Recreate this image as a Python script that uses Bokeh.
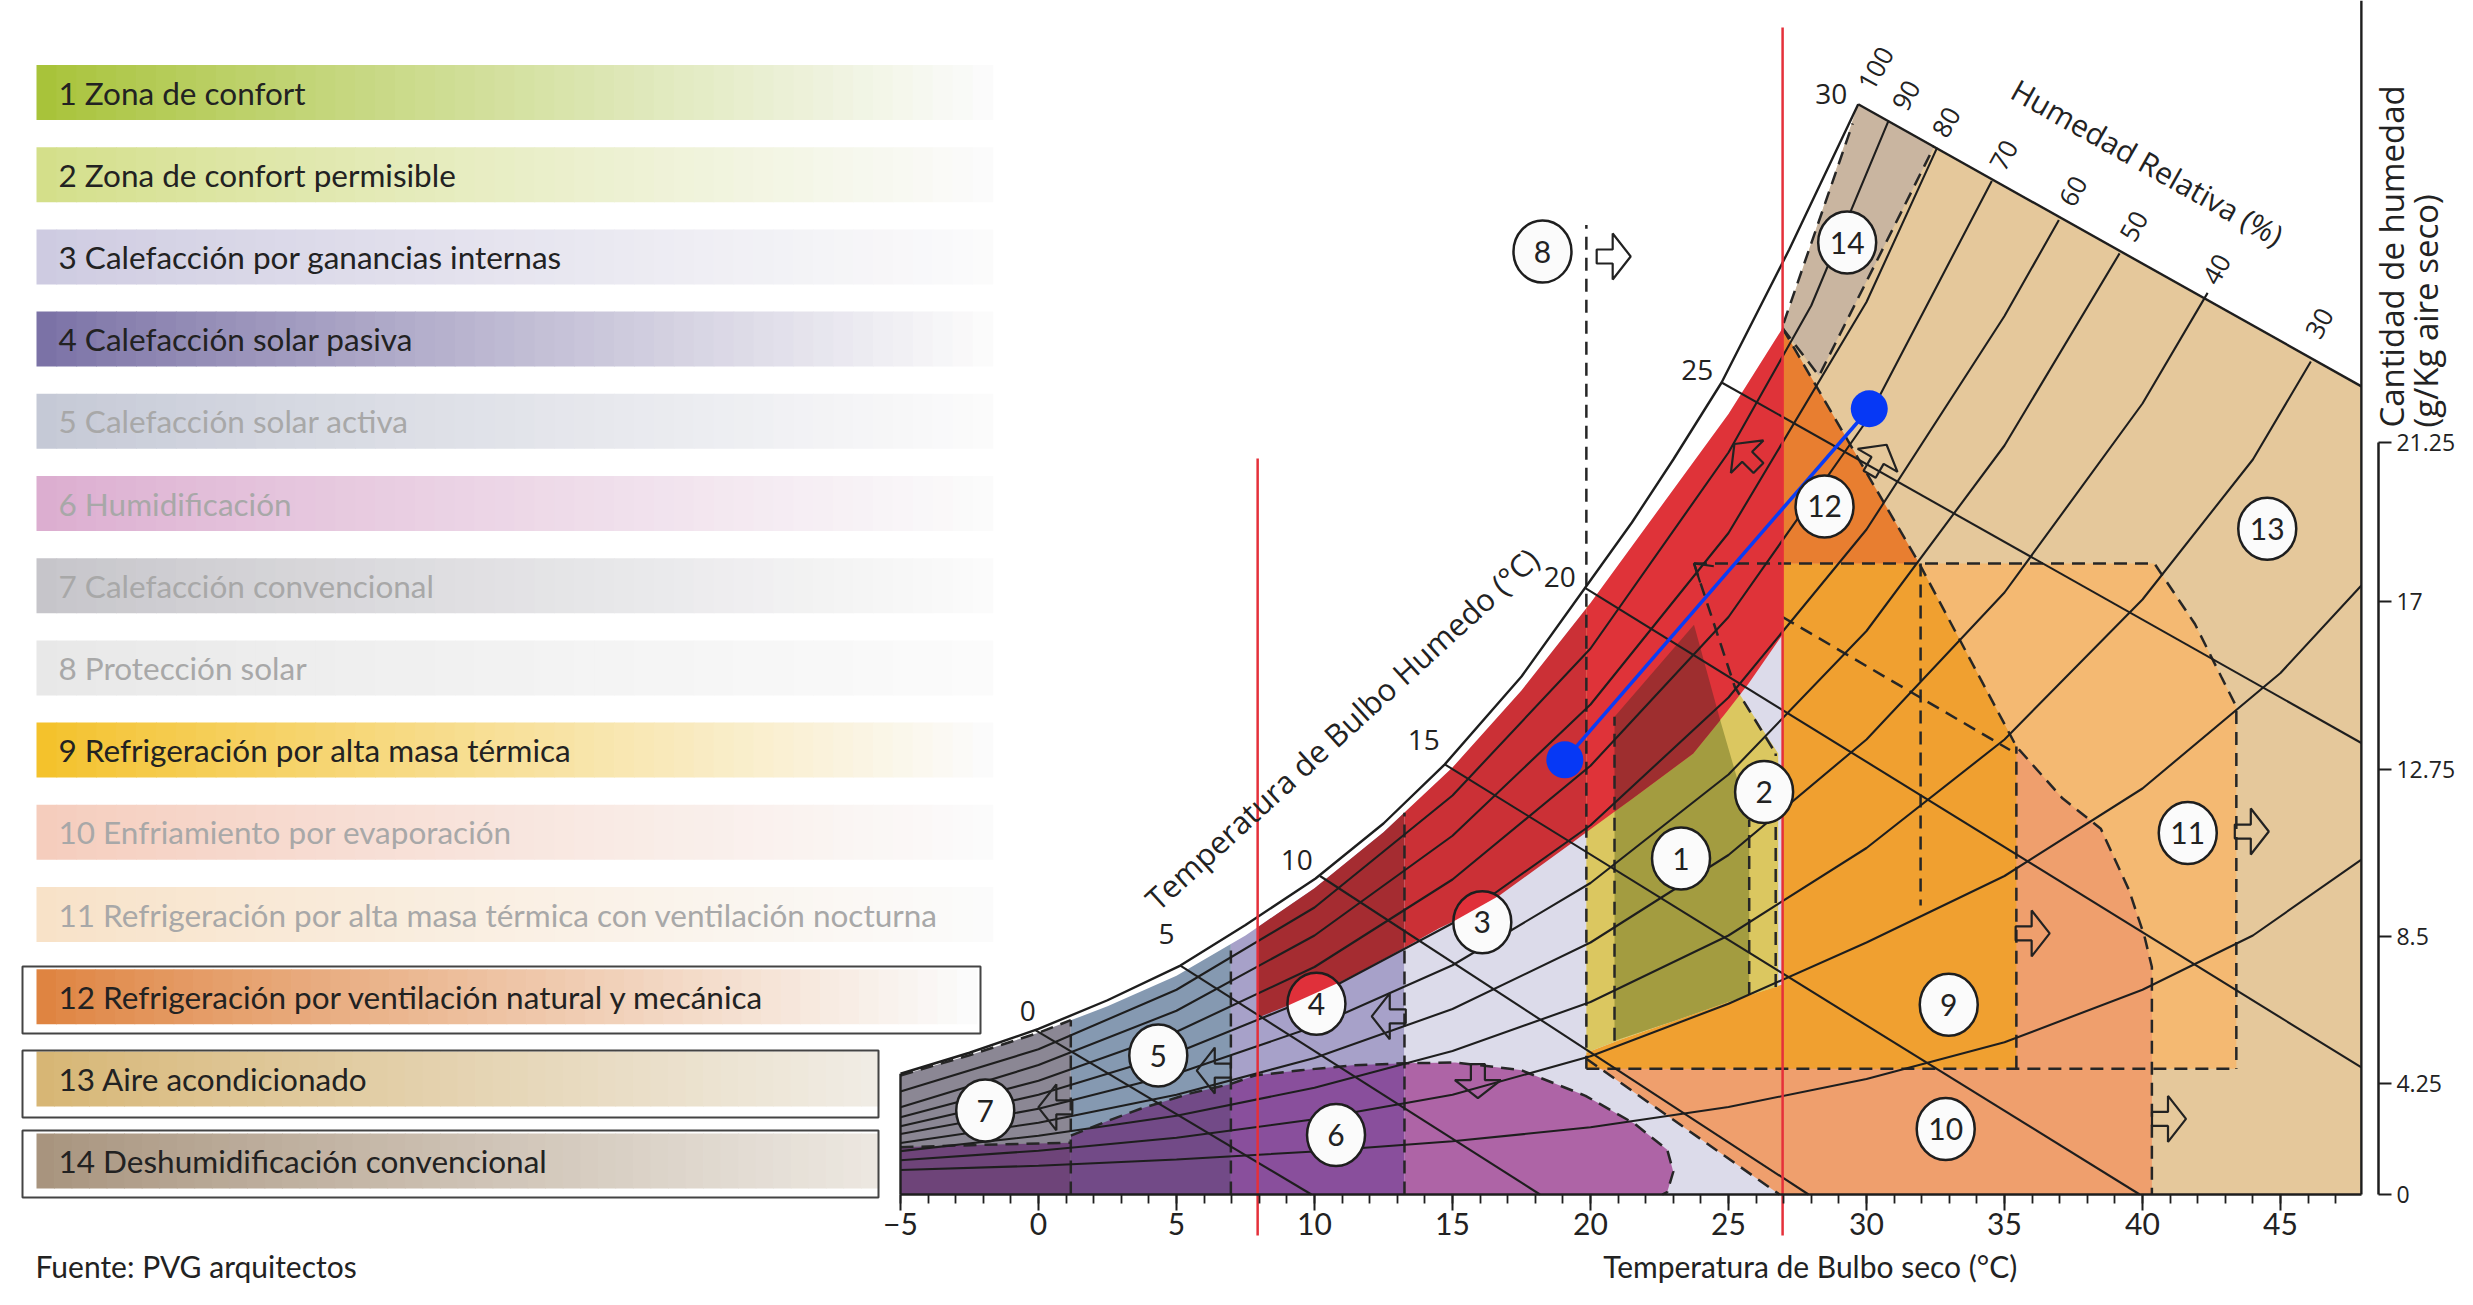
import numpy as np
from bokeh.plotting import figure
from bokeh.models import Range1d, LinearAxis, FixedTicker, CustomJSTickFormatter
from bokeh.core.properties import value
from bokeh.embed import file_html
from bokeh.resources import INLINE

# ======================= DATA =======================
legend_labels = [
    "1 Zona de confort",
    "2 Zona de confort permisible",
    "3 Calefacción por ganancias internas",
    "4 Calefacción solar pasiva",
    "5 Calefacción solar activa",
    "6 Humidificación",
    "7 Calefacción convencional",
    "8 Protección solar",
    "9 Refrigeración por alta masa térmica",
    "10 Enfriamiento por evaporación",
    "11 Refrigeración por alta masa térmica con ventilación nocturna",
    "12 Refrigeración por ventilación natural y mecánica",
    "13 Aire acondicionado",
    "14 Deshumidificación convencional",
]
legend_faded = [False, False, False, False, True, True, True, True, False, True, True, False, False, False]

x_ticks = [-5, 0, 5, 10, 15, 20, 25, 30, 35, 40, 45]
x_minor_ticks = list(range(-5, 48))
hum_tick_pos = [0, 3.17, 7.37, 12.14, 16.94, 21.49]
hum_tick_labels = ["0", "4.25", "8.5", "12.75", "17", "21.25"]

# saturation (outer) line and inner edge of the coloured zones
sat_T = [-5, -2.5, 0, 2.5, 5.14, 7.5, 10.04, 12.5, 14.72, 17.5, 19.8, 21.5, 23.0, 24.75, 27.2, 29.7]
sat_g = [3.45, 4.05, 4.73, 5.55, 6.54, 7.7, 9.03, 10.6, 12.29, 14.8, 17.33, 19.2, 21.0, 23.2, 27.0, 31.15]
fill_T = [-5, -2.5, 0, 2.5, 5, 7.5, 10, 12.5, 15, 17.5, 20, 22.5, 25, 26.96]
fill_g = [3.40, 3.98, 4.62, 5.38, 6.25, 7.4, 8.75, 10.35, 12.2, 14.4, 16.9, 19.6, 22.3, 24.75]
top_T = [29.7, 47.93]
top_g = [31.15, 23.09]
chart_right_T = 47.93

# relative humidity curves
rh90_T = [-5, 0, 5, 10, 15, 20, 25, 28, 30.8]
rh90_g = [2.94, 4.15, 5.85, 8.2, 11.4, 15.6, 21.2, 25.4, 30.68]
rh80_T = [-5, 0, 5, 10, 15, 20, 25, 30, 32.56]
rh80_g = [2.49, 3.7, 5.25, 7.4, 10.25, 14.0, 18.9, 25.5, 29.91]
rh70_T = [-5, 0, 5, 10, 15, 20, 25, 30, 34.54]
rh70_g = [2.21, 3.25, 4.65, 6.5, 9.0, 12.25, 16.5, 22.1, 28.96]
rh60_T = [-5, 0, 5, 10, 15, 20, 25, 30, 35, 36.97]
rh60_g = [1.95, 2.85, 4.05, 5.65, 7.75, 10.55, 14.2, 19.0, 25.1, 27.84]
rh50_T = [-5, 0, 5, 10, 15, 20, 25, 30, 35, 39.17]
rh50_g = [1.73, 2.45, 3.45, 4.8, 6.55, 8.9, 12.0, 16.1, 21.4, 26.89]
rh40_T = [-5, 0, 5, 10, 15, 20, 25, 30, 35, 40, 42.36]
rh40_g = [1.47, 2.05, 2.85, 3.9, 5.3, 7.2, 9.7, 13.0, 17.2, 22.6, 25.76]
rh30_T = [-5, 0, 5, 10, 15, 20, 25, 30, 35, 40, 44, 46.1]
rh30_g = [1.24, 1.68, 2.25, 3.05, 4.1, 5.5, 7.4, 9.9, 13.0, 17.0, 21.0, 23.8]
rh20_T = [-5, 0, 5, 10, 15, 20, 25, 30, 35, 40, 45, 47.93]
rh20_g = [0.98, 1.25, 1.62, 2.15, 2.85, 3.95, 5.45, 7.2, 9.1, 11.6, 14.9, 17.4]
rh10_T = [-5, 0, 5, 10, 15, 20, 25, 30, 35, 40, 44, 47.93]
rh10_g = [0.70, 0.82, 1.0, 1.23, 1.52, 1.92, 2.5, 3.3, 4.35, 5.85, 7.4, 9.57]
rh_label_text = ["100", "90", "80", "70", "60", "50", "40", "30"]
rh_label_T = [30.35, 31.45, 32.9, 34.99, 37.5, 39.7, 42.7, 46.42]
rh_label_g = [32.17, 31.4, 30.63, 29.69, 28.66, 27.66, 26.43, 24.89]

# wet bulb lines
wb_start_T = [-0.1, 5.14, 10.2, 14.72, 19.8, 24.75]
wb_start_g = [4.69, 6.54, 9.1, 12.29, 17.33, 23.2]
wb_end_T = [9.89, 18.17, 27.9, 39.9, 47.93, 47.93]
wb_end_g = [0, 0, 0, 0, 3.63, 12.9]
wb_label_text = ["0", "5", "10", "15", "20", "25", "30"]
wb_label_T = [-0.39, 4.64, 9.36, 13.96, 18.89, 23.87, 28.72]
wb_label_g = [5.25, 7.45, 9.55, 12.99, 17.65, 23.57, 31.44]

# zone column limits
col_edges = [-5, 1.17, 6.97, 13.26, 26.96]
# red band (climate overlay) lower edge
rlow_T = [7.94, 10, 11.5, 13.26, 14.5, 16.1, 17.5, 19.35, 21.5, 23.72, 24.9, 25.73, 26.96]
rlow_g = [5.05, 5.7, 6.3, 7.05, 7.6, 8.2, 9.0, 10.06, 11.3, 12.6, 13.76, 14.6, 16.0]
red_cols = [7.94, 13.26, 19.85, 26.96]

# zone 6 (humidification)
z6a_T = [-5, -5, -2, 1.17, 1.17]
z6a_g = [0, 1.35, 1.42, 1.48, 0]
z6b_T = [1.17, 1.17, 2.5, 3.7, 5.46, 6.97, 6.97]
z6b_g = [0, 1.68, 2.1, 2.45, 2.88, 3.16, 0]
z6c_T = [6.97, 6.97, 7.83, 9.5, 11.37, 13.26, 13.26]
z6c_g = [0, 3.16, 3.4, 3.55, 3.69, 3.75, 0]
z6d_T = [13.26, 13.26, 15.1, 17.46, 19.82, 21.6, 22.78, 23.0, 22.78, 22.6]
z6d_g = [0, 3.75, 3.77, 3.56, 2.82, 2.02, 1.28, 0.65, 0.07, 0]

zone13_T = [26.96, 29.7, 47.93, 47.93, 26.96]
zone13_g = [24.75, 31.15, 23.09, 0, 0]
zone11_T = [31.91, 40.43, 41.9, 42.85, 43.4, 43.4, 35.43, 35.43]
zone11_g = [18.03, 18.03, 16.3, 14.8, 13.94, 3.59, 3.59, 12.8]
zone10_T = [19.85, 26.85, 40.34, 40.34, 40.07, 39.51, 38.49, 37.1, 35.43, 31.91, 26.96, 26.96]
zone10_g = [3.88, 0, 0, 6.5, 7.38, 8.7, 10.45, 11.32, 12.8, 18.03, 24.75, 6.0]
zone9_T = [19.85, 35.43, 35.43, 31.91, 26.96, 26.96, 25, 23, 21, 19.85]
zone9_g = [3.59, 3.59, 12.8, 18.03, 18.03, 6.0, 5.5, 4.95, 4.4, 4.05]
zone12_T = [26.96, 31.91, 26.96]
zone12_g = [24.75, 18.03, 18.03]
zone14_T = [29.7, 26.96, 28.28, 30.37, 32.46]
zone14_g = [31.15, 24.75, 23.39, 26.67, 29.96]
zone2_T = [19.85, 21, 23, 25, 26.8, 26.8, 25.23, 23.75, 19.85]
zone2_g = [4.05, 4.4, 4.95, 5.5, 5.95, 12.6, 14.5, 18.03, 16.8]
zone1_T = [20.87, 23, 25, 25.75, 25.75, 24.7, 23.75, 20.87]
zone1_g = [4.39, 4.95, 5.5, 5.7, 10.7, 13.55, 16.28, 13.65]
zone1red_T = [20.87, 21.5, 23.72, 24.7, 23.75, 20.87]
zone1red_g = [10.94, 11.3, 12.6, 13.55, 16.28, 13.65]

# dashed zone boundaries
dash_T = [
    [19.85, 19.85], [20.87, 20.87], [25.75, 25.75], [26.71, 26.71],
    [23.75, 25.23, 26.71], [19.85, 43.4], [35.43, 35.43],
    [26.96, 31.91, 35.43, 37.1, 38.49, 39.51, 40.07, 40.34, 40.34],
    [23.75, 40.43, 41.9, 42.85, 43.4, 43.4], [31.96, 31.96], [26.96, 35.2],
    [19.85, 26.85], [1.17, 1.17], [6.97, 6.97], [13.26, 13.26],
    [-5, -2, 1.17],
    [1.17, 2.5, 3.7, 5.46, 6.97, 7.83, 9.5, 11.37, 13.26, 15.1, 17.46, 19.82, 21.6, 22.78, 23.0, 22.78, 22.6],
    [26.96, 28.28, 30.37, 32.46], [27.0, 29.5], [-5, -2.5, 0, 1.17],
]
dash_g = [
    [3.59, 27.7], [4.39, 13.65], [5.7, 10.7], [5.93, 12.6],
    [18.03, 14.5, 12.6], [3.59, 3.59], [3.59, 12.8],
    [24.75, 18.03, 12.8, 11.32, 10.45, 8.7, 7.38, 6.5, 0],
    [18.03, 18.03, 16.3, 14.8, 13.94, 3.59], [18.03, 8.26], [16.5, 12.7],
    [3.88, 0], [0, 4.98], [0, 7.16], [0, 10.91],
    [1.35, 1.42, 1.48],
    [1.68, 2.1, 2.45, 2.88, 3.16, 3.4, 3.55, 3.69, 3.75, 3.77, 3.56, 2.82, 2.02, 1.28, 0.65, 0.07, 0],
    [24.75, 23.39, 26.67, 29.96], [24.9, 30.6], [3.40, 3.98, 4.62, 4.98],
]

# strategy arrows (position and direction in degrees)
arrow_T = [0.61, 6.35, 12.69, 15.92, 20.84, 36.02, 43.96, 40.96, 25.65, 30.42]
arrow_g = [2.49, 3.54, 5.09, 3.24, 26.8, 7.46, 10.37, 2.16, 21.1, 21.0]
arrow_dir = [180, 180, 180, 270, 0, 0, 0, 0, 135, 60]
vhead_T, vhead_g, vhead_dir = [23.75], [18.03], [140]

# zone number markers
circle_text = [str(i) for i in range(1, 15)]
circle_T = [23.28, 26.29, 16.08, 10.07, 4.34, 10.78, -1.93, 18.26, 32.98, 32.87, 41.64, 28.48, 44.52, 29.3]
circle_g = [9.6, 11.5, 7.78, 5.45, 3.97, 1.7, 2.4, 26.94, 5.42, 1.87, 10.33, 19.66, 19.02, 27.2]
capped = [2, 3]

# climate data line
blue_T = [19.07, 30.1]
blue_g = [12.42, 22.45]
redline_T = [7.94, 26.96]
redline_top = [21.03, 33.34]
redline_bottom = [-1.17, -1.17]

# ======================= STYLE / LAYOUT =======================
W, H = 2457, 1289
PX_T, PX_G = 27.6, 35.0
X_M5, Y_G0 = 900.0, 1194.0          # screen position of T=-5 and g=0
xs0 = -5 - X_M5 / PX_T
xs1 = xs0 + W / PX_T
ys0 = -(H - Y_G0) / PX_G
ys1 = Y_G0 / PX_G
HUM_AXIS_T = 48.55

legend_colors = ["#a8c33a", "#d4df8a", "#cecbe1", "#7b72a6", "#c5c9d6", "#dcaed0", "#c6c5ca",
                 "#e8e8e8", "#f4c22c", "#f5cdbd", "#f8e2c8", "#df8441", "#d7b675", "#a8947e"]
legend_end_colors = ["#fbfbfb"] * 12 + ["#f0ece4", "#ece7e0"]
LEG_X0, LEG_TX, LEG_Y0, LEG_DY, LEG_H = 36, 58, 92, 82.2, 55
leg_xend = [992] * 11 + [976, 878, 878]
box_l, box_r = [22, 22, 22], [980, 878, 878]
box_t, box_b = [966, 1050, 1130], [1033, 1117, 1197]

INK = "#1e1e1e"
FONT_C = "Open Sans"
FONT_L = "Lato"


def mix(c1, c2, t):
    a = [int(c1[i:i + 2], 16) for i in (1, 3, 5)]
    b = [int(c2[i:i + 2], 16) for i in (1, 3, 5)]
    return "#%02x%02x%02x" % tuple(int(round(a[k] + (b[k] - a[k]) * t)) for k in range(3))


p = figure(width=W, height=H, x_range=Range1d(xs0, xs1), y_range=Range1d(ys0, ys1),
           x_axis_type=None, y_axis_type=None, toolbar_location=None, output_backend="svg",
           min_border=0, min_border_left=0, min_border_top=0, min_border_right=0, min_border_bottom=0,
           outline_line_color=None, background_fill_color="white", border_fill_color="white")
p.extra_x_ranges = {"px": Range1d(0, W)}
p.extra_y_ranges = {"px": Range1d(H, 0)}

# ---------- legend ----------
NS = 48
for i, lab in enumerate(legend_labels):
    cy = LEG_Y0 + LEG_DY * i
    edges = np.linspace(LEG_X0, leg_xend[i], NS + 1)
    cols = [mix(legend_colors[i], legend_end_colors[i], (k / (NS - 1)) ** 0.9) for k in range(NS)]
    p.quad(left=edges[:-1], right=edges[1:] + 0.8, top=cy - LEG_H / 2, bottom=cy + LEG_H / 2,
           fill_color=cols, line_color=None, x_range_name="px", y_range_name="px")
p.text(x=[LEG_TX] * 14, y=[LEG_Y0 + LEG_DY * i for i in range(14)], text=legend_labels,
       text_color=["#a8a8a8" if f else "#222222" for f in legend_faded],
       text_font=value(FONT_L), text_font_size=value("31.5px"), text_baseline="middle",
       x_range_name="px", y_range_name="px")
p.quad(left=box_l, right=box_r, top=box_t, bottom=box_b, fill_color=None, line_color="#444444",
       line_width=2, x_range_name="px", y_range_name="px")


# ---------- zone fills ----------
def col_poly(a, b):
    ts = [t for t in fill_T if a < t < b]
    T = [a, a] + ts + [b, b]
    G = [0, float(np.interp(a, fill_T, fill_g))] + [float(np.interp(t, fill_T, fill_g)) for t in ts] + \
        [float(np.interp(b, fill_T, fill_g)), 0]
    return T, G


def band_poly(a, b):
    ts = [t for t in fill_T if a < t < b]
    rs = [t for t in rlow_T if a < t < b][::-1]
    T = [a] + ts + [b] + [b] + rs + [a]
    G = [float(np.interp(t, fill_T, fill_g)) for t in [a] + ts + [b]] + \
        [float(np.interp(t, rlow_T, rlow_g)) for t in [b] + rs + [a]]
    return T, G


col_colors = ["#8b8794", "#8599b1", "#a7a1c9", "#dcdbea"]
for k in range(4):
    T, G = col_poly(col_edges[k], col_edges[k + 1])
    p.patch(T, G, fill_color=col_colors[k], line_color=None)

p.patch(zone13_T, zone13_g, fill_color="#e5c89b", line_color=None)
p.patch(zone11_T, zone11_g, fill_color="#f4b972", line_color=None)
p.patch(zone10_T, zone10_g, fill_color="#ef9f6d", line_color=None)
p.patch(zone9_T, zone9_g, fill_color="#f0a030", line_color=None)
p.patch(zone12_T, zone12_g, fill_color="#e87e30", line_color=None)
p.patch(zone14_T, zone14_g, fill_color="#c9b5a0", line_color=None)
p.patch(zone2_T, zone2_g, fill_color="#dbc760", line_color=None)
p.patch(zone1_T, zone1_g, fill_color="#a39c40", line_color=None)
for T, G, c in [(z6a_T, z6a_g, "#6e4479"), (z6b_T, z6b_g, "#724a87"),
                (z6c_T, z6c_g, "#894f9c"), (z6d_T, z6d_g, "#ae64a6")]:
    p.patch(T, G, fill_color=c, line_color=None)
for k, c in enumerate(["#a52c31", "#cb3036", "#df3339"]):
    T, G = band_poly(red_cols[k], red_cols[k + 1])
    p.patch(T, G, fill_color=c, line_color=None)
p.patch(zone1red_T, zone1red_g, fill_color="#9e2e2f", line_color=None)

# ---------- lines ----------
p.multi_line(xs=dash_T, ys=dash_g, line_color="#262626", line_width=2.5, line_dash="13 8")
rh_T = [rh90_T, rh80_T, rh70_T, rh60_T, rh50_T, rh40_T, rh30_T, rh20_T, rh10_T]
rh_g = [rh90_g, rh80_g, rh70_g, rh60_g, rh50_g, rh40_g, rh30_g, rh20_g, rh10_g]
p.multi_line(xs=rh_T, ys=rh_g, line_color=INK, line_width=2.1)
p.segment(x0=wb_start_T, y0=wb_start_g, x1=wb_end_T, y1=wb_end_g, line_color=INK, line_width=2.1)
p.line(sat_T, sat_g, line_color=INK, line_width=2.4)
p.line(top_T, top_g, line_color=INK, line_width=2.4)
p.line([-5, -5], [0, sat_g[0]], line_color=INK, line_width=2.4)
p.line([chart_right_T, chart_right_T], [0, ys1], line_color=INK, line_width=2.4)
p.segment(x0=redline_T, y0=redline_bottom, x1=redline_T, y1=redline_top, line_color="#e5303a", line_width=2.5)


# ---------- strategy arrows ----------
def block_arrow(T0, g0, ang, L=34, hl=18, hw=23, tw=7):
    pts = [(-L / 2, -tw), (L / 2 - hl, -tw), (L / 2 - hl, -hw), (L / 2, 0),
           (L / 2 - hl, hw), (L / 2 - hl, tw), (-L / 2, tw)]
    a = np.deg2rad(ang)
    xs = [T0 + (px * np.cos(a) - py * np.sin(a)) / PX_T for px, py in pts]
    ys = [g0 + (px * np.sin(a) + py * np.cos(a)) / PX_G for px, py in pts]
    return xs, ys


axs, ays = zip(*[block_arrow(t, g, d) for t, g, d in zip(arrow_T, arrow_g, arrow_dir)])
p.patches(list(axs), list(ays), fill_color=None, line_color="#222222", line_width=2.2)
for t, g, d in zip(vhead_T, vhead_g, vhead_dir):
    a1, a2 = np.deg2rad(d + 180 - 32), np.deg2rad(d + 180 + 32)
    p.line([t + 20 * np.cos(a1) / PX_T, t, t + 20 * np.cos(a2) / PX_T],
           [g + 20 * np.sin(a1) / PX_G, g, g + 20 * np.sin(a2) / PX_G], line_color="#222222", line_width=2.2)

# ---------- climate line ----------
p.line(blue_T, blue_g, line_color="#0a3cf5", line_width=3.5)
p.scatter(blue_T, blue_g, size=37, fill_color="#0638f5", line_color=None)

# ---------- zone number markers ----------
RX, RY = 29, 31
p.ellipse(x=circle_T, y=circle_g, width=2 * RX, height=2 * RY, width_units="screen", height_units="screen",
          fill_color="#fbfbfb", line_color=None)


def clip_above(xs, ys):
    out = []
    n = len(xs)
    for i in range(n):
        x1, y1, x2, y2 = xs[i], ys[i], xs[(i + 1) % n], ys[(i + 1) % n]
        d1 = y1 - np.interp(x1, rlow_T, rlow_g)
        d2 = y2 - np.interp(x2, rlow_T, rlow_g)
        if d1 >= 0:
            out.append((x1, y1))
        if (d1 >= 0) != (d2 >= 0):
            tt = d1 / (d1 - d2)
            out.append((x1 + tt * (x2 - x1), y1 + tt * (y2 - y1)))
    return [o[0] for o in out], [o[1] for o in out]


ang = np.linspace(0, 2 * np.pi, 72, endpoint=False)
for k in capped:
    cx = list(circle_T[k] + RX * np.cos(ang) / PX_T)
    cyy = list(circle_g[k] + RY * np.sin(ang) / PX_G)
    xs_c, ys_c = clip_above(cx, cyy)
    if len(xs_c) > 2:
        p.patch(xs_c, ys_c, fill_color="#e0303a", line_color=None)
p.ellipse(x=circle_T, y=circle_g, width=2 * RX, height=2 * RY, width_units="screen", height_units="screen",
          fill_color=None, line_color=INK, line_width=2.5)
p.text(x=circle_T, y=circle_g, text=circle_text, text_font=value(FONT_L), text_font_size=value("30px"),
       text_color="#222222", text_align="center", text_baseline="middle")

# ---------- chart texts ----------
p.text(x=wb_label_T, y=wb_label_g, text=wb_label_text, text_font=value(FONT_C), text_font_size=value("28px"),
       text_color="#222222", text_align="center", text_baseline="middle")
p.text(x=rh_label_T, y=rh_label_g, text=rh_label_text, text_font=value(FONT_C), text_font_size=value("26px"),
       text_color="#222222", text_align="center", text_baseline="middle", angle=1.06)
p.text(x=[10.99], y=[13.31], text=["Temperatura de Bulbo Humedo (°C)"], text_font=value(FONT_C),
       text_font_size=value("31px"), text_color="#222222", text_align="center", text_baseline="middle", angle=0.74)
p.text(x=[40.18], y=[29.49], text=["Humedad Relativa (%)"], text_font=value(FONT_C),
       text_font_size=value("30px"), text_color="#222222", text_align="center", text_baseline="middle", angle=-0.513)
p.text(x=[2391, 2425], y=[427, 427], text=["Cantidad de humedad", "(g/Kg aire seco)"],
       text_font=value(FONT_C), text_font_size=value("33px"), text_color="#222222",
       text_align="left", text_baseline="middle", angle=np.pi / 2, x_range_name="px", y_range_name="px")
p.text(x=[27.96], y=[-2.03], text=["Temperatura de Bulbo seco (°C)"], text_font=value(FONT_L),
       text_font_size=value("30px"), text_color="#222222", text_align="center", text_baseline="middle")
p.text(x=[35], y=[1265], text=["Fuente: PVG arquitectos"], text_font=value(FONT_L),
       text_font_size=value("30px"), text_color="#222222", text_align="left", text_baseline="middle",
       x_range_name="px", y_range_name="px")

# ---------- axes ----------
xax = LinearAxis(fixed_location=0, bounds=(-5, chart_right_T),
                 ticker=FixedTicker(ticks=x_ticks, minor_ticks=x_minor_ticks),
                 axis_line_width=2.5, axis_line_color=INK,
                 major_tick_in=0, major_tick_out=16, major_tick_line_width=2, major_tick_line_color=INK,
                 minor_tick_in=0, minor_tick_out=9, minor_tick_line_width=1.8, minor_tick_line_color=INK,
                 major_label_text_font=FONT_L, major_label_text_font_size="30px",
                 major_label_text_color="#222222", major_label_standoff=2)
p.add_layout(xax, "below")
yax = LinearAxis(fixed_location=HUM_AXIS_T, bounds=(0, hum_tick_pos[-1]),
                 ticker=FixedTicker(ticks=hum_tick_pos, minor_ticks=[]),
                 formatter=CustomJSTickFormatter(args=dict(pos=hum_tick_pos, labels=hum_tick_labels),
                                                 code="const i = pos.indexOf(tick); return i >= 0 ? labels[i] : '';"),
                 axis_line_width=2.5, axis_line_color=INK,
                 major_tick_in=0, major_tick_out=13, major_tick_line_width=2, major_tick_line_color=INK,
                 major_label_text_font=FONT_C, major_label_text_font_size="23px",
                 major_label_text_color="#222222", major_label_standoff=5)
p.add_layout(yax, "right")

open("out.html", "w").write(file_html(p, INLINE))
